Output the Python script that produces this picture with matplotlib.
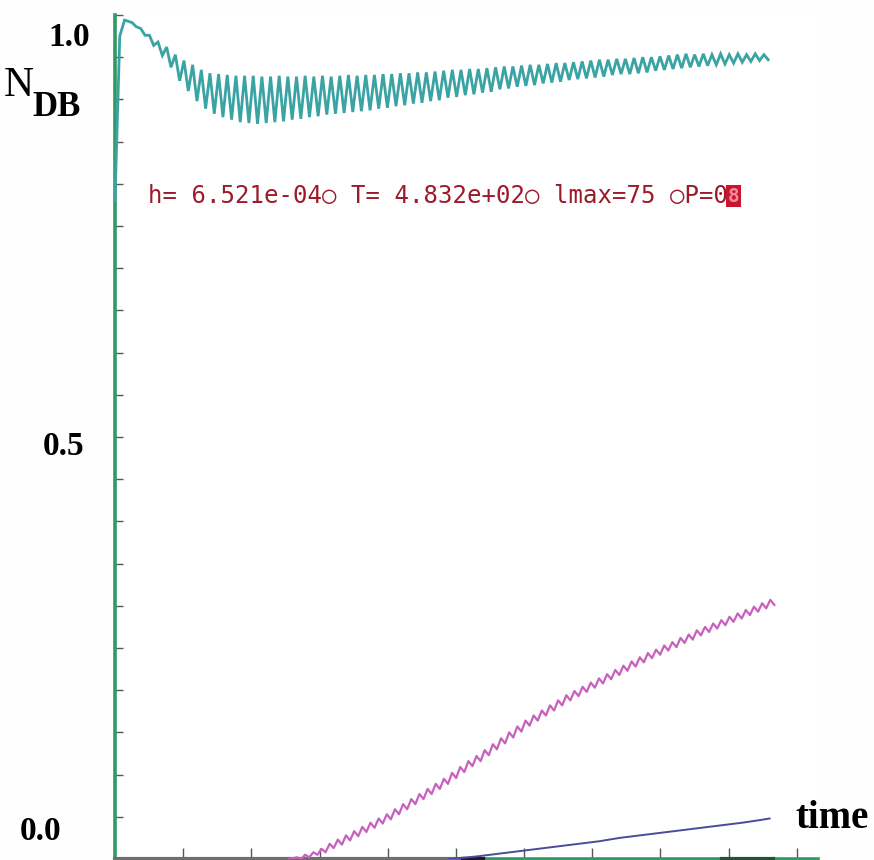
import numpy as np
import matplotlib
matplotlib.use("Agg")
import matplotlib.pyplot as plt

# ---- data -------------------------------------------------------------
# dark-brick occupation N_DB versus time
cyan_rise_t = [0.0, 0.07, 0.14]
cyan_rise_v = [0.78, 0.975, 0.994]

# alternating maxima / minima of the oscillating upper curve
cyan_zigzag = [
    0.991, 0.986, 0.984, 0.976, 0.976, 0.964, 0.968, 0.952, 0.962, 0.938,
    0.953, 0.922, 0.946, 0.910, 0.941, 0.898, 0.935, 0.889, 0.931, 0.883,
    0.930, 0.879, 0.929, 0.876, 0.928, 0.873, 0.928, 0.872, 0.928, 0.871,
    0.927, 0.872, 0.927, 0.873, 0.928, 0.874, 0.927, 0.876, 0.927, 0.877,
    0.928, 0.879, 0.927, 0.880, 0.928, 0.882, 0.927, 0.883, 0.928, 0.884,
    0.929, 0.885, 0.928, 0.886, 0.929, 0.887, 0.929, 0.889, 0.930, 0.890,
    0.930, 0.892, 0.931, 0.893, 0.931, 0.895, 0.932, 0.896, 0.932, 0.898,
    0.933, 0.899, 0.934, 0.902, 0.935, 0.903, 0.935, 0.905, 0.936, 0.906,
    0.936, 0.908, 0.937, 0.909, 0.938, 0.912, 0.939, 0.913, 0.939, 0.915,
    0.940, 0.916, 0.941, 0.917, 0.941, 0.919, 0.942, 0.920, 0.943, 0.921,
    0.943, 0.923, 0.944, 0.924, 0.945, 0.925, 0.946, 0.926, 0.947, 0.927,
    0.947, 0.929, 0.948, 0.930, 0.948, 0.930, 0.949, 0.931, 0.950, 0.932,
    0.950, 0.934, 0.951, 0.935, 0.952, 0.936, 0.953, 0.937, 0.954, 0.938,
    0.953, 0.939, 0.954, 0.940, 0.953, 0.941, 0.954, 0.942, 0.953, 0.943,
    0.954, 0.944, 0.953, 0.945, 0.954, 0.946, 0.953, 0.947,
]
cyan_t_span = (0.25, 9.58)

# alternating maxima / minima of the rising magenta curve
magenta_zigzag = [
    0.000, 0.001,
    0.002, 0.000, 0.005, 0.002, 0.008, 0.005, 0.012, 0.008, 0.018, 0.013,
    0.023, 0.017, 0.028, 0.022, 0.033, 0.027, 0.038, 0.032, 0.043, 0.037,
    0.048, 0.042, 0.053, 0.047, 0.059, 0.053, 0.065, 0.059, 0.071, 0.065,
    0.077, 0.071, 0.083, 0.077, 0.089, 0.083, 0.095, 0.089, 0.102, 0.096,
    0.109, 0.103, 0.116, 0.110, 0.122, 0.116, 0.129, 0.123, 0.136, 0.130,
    0.143, 0.137, 0.150, 0.144, 0.157, 0.151, 0.164, 0.158, 0.170, 0.164,
    0.176, 0.170, 0.182, 0.176, 0.188, 0.182, 0.194, 0.188, 0.199, 0.193,
    0.204, 0.198, 0.209, 0.203, 0.214, 0.208, 0.219, 0.213, 0.224, 0.218,
    0.229, 0.223, 0.234, 0.228, 0.239, 0.233, 0.244, 0.238, 0.248, 0.242,
    0.253, 0.247, 0.257, 0.251, 0.262, 0.256, 0.266, 0.260, 0.271, 0.265,
    0.275, 0.269, 0.279, 0.273, 0.283, 0.277, 0.287, 0.281, 0.291, 0.285,
    0.295, 0.289, 0.299, 0.293, 0.303, 0.297, 0.307, 0.301,
]
magenta_t_span = (2.55, 9.67)

blue_t = [4.9, 5.3, 5.6, 5.9, 6.2, 6.5, 6.8, 7.1, 7.4, 7.7, 8.0,
          8.3, 8.6, 8.9, 9.2, 9.45, 9.6]
blue_v = [0.000, 0.003, 0.006, 0.009, 0.012, 0.015, 0.018, 0.021, 0.025,
          0.028, 0.031, 0.034, 0.037, 0.040, 0.043, 0.046, 0.048]

# other species that stay at zero
zero_grey_t = [0.0, 5.1]
zero_black_t = [5.1, 5.4]
zero_dkgreen_t = [8.9, 9.65]

x_ticks = [1, 2, 3, 4, 5, 6, 7, 8, 9, 10]
y_ticks = [0.05 * i for i in range(1, 21)]
y_labels = ["1.0", "0.5", "0.0"]
info_text = "h= 6.521e-04\u25cb T= 4.832e+02\u25cb lmax=75 \u25cbP=0"

# ---- figure -----------------------------------------------------------
W, H = 874, 860
fig = plt.figure(figsize=(W / 100, H / 100), dpi=100, facecolor="#fdfefd")
ax = fig.add_axes([115 / W, 1 / H, (818 - 115) / W, (859 - 15) / H])
ax.set_facecolor("#fefffe")
ax.set_xlim(0, 10.31)
ax.set_ylim(0, 1.0)

axis_col = "#2f9a64"
for side in ("top", "right"):
    ax.spines[side].set_visible(False)
for side in ("left", "bottom"):
    ax.spines[side].set_color(axis_col)
    ax.spines[side].set_linewidth(2.6)

ax.set_xticks(x_ticks)
ax.set_yticks(y_ticks)
ax.tick_params(axis="both", direction="in", colors="#555555",
               labelleft=False, labelbottom=False)
ax.tick_params(axis="y", length=6, width=1.0)
ax.tick_params(axis="x", length=8, width=1.0)

# zero-level traces along the time axis
ax.plot(zero_grey_t, [0, 0], color="#6e6e6e", lw=3, clip_on=False, zorder=3)
ax.plot(zero_black_t, [0, 0], color="#1a1a2a", lw=3, clip_on=False, zorder=3)
ax.plot(zero_dkgreen_t, [0, 0], color="#24503a", lw=3, clip_on=False, zorder=3)

# upper oscillating curve
cyan_t = np.concatenate([cyan_rise_t,
                         np.linspace(*cyan_t_span, len(cyan_zigzag))])
cyan_v = np.concatenate([cyan_rise_v, cyan_zigzag])
ax.plot(cyan_t, cyan_v, color="#3aa3a4", lw=2.0, clip_on=False, zorder=4,
        solid_joinstyle="miter")

# magenta curve
mag_t = np.linspace(*magenta_t_span, len(magenta_zigzag))
ax.plot(mag_t, magenta_zigzag, color="#c860be", lw=1.6, zorder=4)

# blue curve
ax.plot(blue_t, blue_v, color="#4b4b9c", lw=1.4, zorder=4)

# ---- text ---------------------------------------------------------------
serif = "Liberation Serif"
def px(x, y):
    return x / W, 1 - y / H

lab_fs = 24
fig.text(*px(69, 37), y_labels[0], family=serif, weight="bold",
         fontsize=lab_fs, ha="center", va="center")
fig.text(*px(64, 446), y_labels[1], family=serif, weight="bold",
         fontsize=lab_fs, ha="center", va="center")
fig.text(*px(41, 832), y_labels[2], family=serif, weight="bold",
         fontsize=lab_fs, ha="center", va="center")
fig.text(*px(4, 86), "N", family=serif, fontsize=30, ha="left", va="center")
fig.text(*px(32, 108), "DB", family=serif, weight="bold", fontsize=25,
         ha="left", va="center")
fig.text(*px(795, 818), "time", family=serif, weight="bold", fontsize=28,
         ha="left", va="center")

info_fs = 17.3
char_w = 0.602 * info_fs * 100 / 72
fig.text(*px(148, 196), info_text, family="DejaVu Sans Mono",
         fontsize=info_fs, color="#9c1a2a", ha="left", va="center")
fig.text(*px(148 + len(info_text) * char_w + char_w / 2, 196), "8",
         family="DejaVu Sans Mono", weight="bold", fontsize=info_fs * 0.8,
         color="#f08ca0", ha="center", va="center",
         bbox=dict(boxstyle="square,pad=0.08", fc="#c8162e", ec="none"))

fig.savefig("out.png", dpi=100, facecolor=fig.get_facecolor())
